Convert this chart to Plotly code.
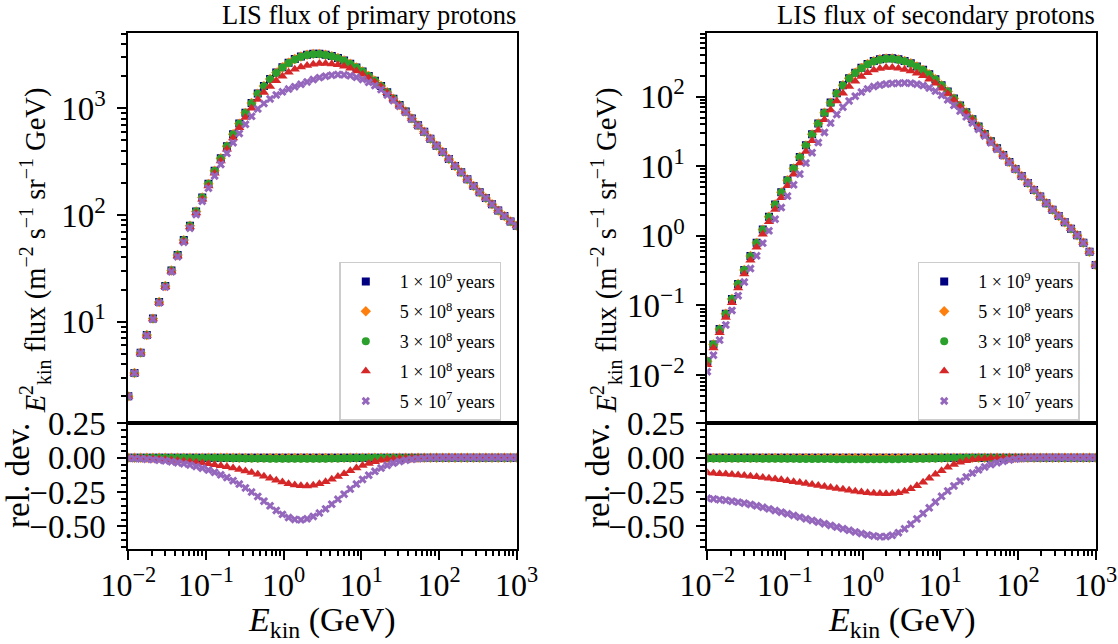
import plotly.graph_objects as go

W, H = 1118, 644
FONT = "Liberation Serif"

# ---------------- data ----------------
ENERGY_GEV = [
    0.01, 0.01200, 0.01441, 0.01730, 0.02077, 0.02493, 0.02993, 0.03594,
    0.04315, 0.05179, 0.06218, 0.07465, 0.08961, 0.1076, 0.1292, 0.1551,
    0.1861, 0.2234, 0.2683, 0.3221, 0.3866, 0.4642, 0.5572, 0.6690,
    0.8031, 0.9641, 1.157, 1.390, 1.668, 2.003, 2.404, 2.886,
    3.465, 4.160, 4.994, 5.995, 7.197, 8.640, 10.37, 12.45,
    14.95, 17.95, 21.54, 25.86, 31.05, 37.28, 44.75, 53.72,
    64.49, 77.43, 92.95, 111.6, 134.0, 160.8, 193.1, 231.8,
    278.3, 334.1, 401.0, 481.4, 578.0, 693.9, 833.0, 1000.0,
]

AGE_LABELS = [
    "1 × 10<sup>9</sup> years",
    "5 × 10<sup>8</sup> years",
    "3 × 10<sup>8</sup> years",
    "1 × 10<sup>8</sup> years",
    "5 × 10<sup>7</sup> years",
]

# primary protons: E^2 flux of the 1e9-year reference, and relative deviations of the others
PRIMARY_FLUX_1E9 = [
    2.00, 3.31, 5.13, 7.50, 10.7, 15.3, 21.6, 30.2,
    42.2, 58.2, 79.4, 108, 146, 196, 260, 340,
    442, 571, 719, 908, 1122, 1374, 1622, 1884,
    2163, 2427, 2679, 2897, 3062, 3177, 3243, 3243,
    3184, 3090, 2965, 2805, 2618, 2415, 2213, 2009,
    1811, 1622, 1413, 1230, 1072, 933, 804, 692,
    603, 519, 447, 389, 335, 288, 251, 216,
    187, 163, 144, 126, 110, 97.7, 87.1, 79.4,
]
PRIMARY_DEV_5E8 = [
    0.0, 0.0, 0.0, 0.0, 0.0, 0.0, 0.0, 0.0,
    0.0, 0.0, 0.0, 0.0, 0.0, 0.0, 0.0, 0.0,
    0.0, 0.0, 0.0, -0.001, -0.001, -0.001, -0.001, -0.001,
    -0.001, -0.001, -0.001, -0.001, -0.001, -0.001, -0.001, -0.001,
    -0.001, -0.001, -0.001, -0.001, 0.0, 0.0, 0.0, 0.0,
    0.0, 0.0, 0.0, 0.0, 0.0, 0.0, 0.0, 0.0,
    0.0, 0.0, 0.0, 0.0, 0.0, 0.0, 0.0, 0.0,
    0.0, 0.0, 0.0, 0.0, 0.0, 0.0, 0.0, 0.0,
]
PRIMARY_DEV_3E8 = [
    0.0, 0.0, 0.0, 0.0, -0.001, -0.001, -0.001, -0.001,
    -0.001, -0.001, -0.002, -0.002, -0.002, -0.002, -0.003, -0.003,
    -0.003, -0.004, -0.004, -0.005, -0.005, -0.006, -0.006, -0.007,
    -0.007, -0.008, -0.008, -0.008, -0.008, -0.008, -0.008, -0.007,
    -0.007, -0.006, -0.005, -0.004, -0.004, -0.003, -0.002, -0.002,
    -0.001, -0.001, -0.001, 0.0, 0.0, 0.0, 0.0, 0.0,
    0.0, 0.0, 0.0, 0.0, 0.0, 0.0, 0.0, 0.0,
    0.0, 0.0, 0.0, 0.0, 0.0, 0.0, 0.0, 0.0,
]
PRIMARY_DEV_1E8 = [
    -0.003, -0.004, -0.005, -0.007, -0.009, -0.011, -0.014, -0.017,
    -0.020, -0.024, -0.028, -0.033, -0.038, -0.044, -0.051, -0.058,
    -0.066, -0.075, -0.085, -0.096, -0.108, -0.121, -0.135, -0.150,
    -0.164, -0.177, -0.189, -0.198, -0.204, -0.205, -0.200, -0.190,
    -0.175, -0.157, -0.137, -0.116, -0.095, -0.075, -0.057, -0.042,
    -0.029, -0.019, -0.012, -0.007, -0.004, -0.002, -0.001, -0.001,
    0.0, 0.0, 0.0, 0.0, 0.0, 0.0, 0.0, 0.0,
    0.0, 0.0, 0.0, 0.0, 0.0, 0.0, 0.0, 0.0,
]
PRIMARY_DEV_5E7 = [
    -0.004, -0.006, -0.008, -0.011, -0.014, -0.018, -0.023, -0.029,
    -0.036, -0.044, -0.053, -0.064, -0.076, -0.090, -0.106, -0.124,
    -0.144, -0.167, -0.192, -0.220, -0.250, -0.282, -0.316, -0.350,
    -0.383, -0.412, -0.435, -0.449, -0.452, -0.444, -0.427, -0.402,
    -0.372, -0.338, -0.302, -0.265, -0.228, -0.192, -0.158, -0.127,
    -0.099, -0.075, -0.055, -0.039, -0.027, -0.018, -0.012, -0.007,
    -0.004, -0.002, -0.001, 0.0, 0.0, 0.0, 0.0, 0.0,
    0.0, 0.0, 0.0, 0.0, 0.0, 0.0, 0.0, 0.0,
]

# secondary protons
SECONDARY_FLUX_1E9 = [
    0.0158, 0.0275, 0.0457, 0.0759, 0.124, 0.204, 0.324, 0.513,
    0.794, 1.23, 1.88, 2.82, 4.22, 6.31, 9.33, 13.6,
    20.0, 28.8, 41.2, 58.9, 82.2, 112, 146, 184,
    221, 260, 295, 325, 345, 356, 356, 344,
    326, 302, 272, 243, 210, 178, 146, 119,
    94.4, 75.0, 59.6, 47.3, 37.2, 29.2, 22.9, 18.2,
    14.5, 11.5, 9.12, 7.24, 5.75, 4.57, 3.67, 2.95,
    2.37, 1.93, 1.57, 1.27, 1.02, 0.794, 0.589, 0.380,
]
SECONDARY_DEV_5E8 = [
    -0.001, -0.001, -0.001, -0.001, -0.001, -0.001, -0.001, -0.001,
    -0.001, -0.001, -0.001, -0.001, -0.001, -0.001, -0.001, -0.001,
    -0.001, -0.001, -0.001, -0.001, -0.001, -0.001, -0.001, -0.001,
    -0.001, -0.001, -0.001, -0.001, -0.001, -0.001, -0.001, -0.001,
    -0.001, -0.001, -0.001, -0.001, 0.0, 0.0, 0.0, 0.0,
    0.0, 0.0, 0.0, 0.0, 0.0, 0.0, 0.0, 0.0,
    0.0, 0.0, 0.0, 0.0, 0.0, 0.0, 0.0, 0.0,
    0.0, 0.0, 0.0, 0.0, 0.0, 0.0, 0.0, 0.0,
]
SECONDARY_DEV_3E8 = [
    -0.005, -0.005, -0.005, -0.005, -0.005, -0.006, -0.006, -0.006,
    -0.006, -0.007, -0.007, -0.007, -0.008, -0.008, -0.008, -0.009,
    -0.009, -0.009, -0.010, -0.010, -0.010, -0.011, -0.011, -0.011,
    -0.012, -0.012, -0.012, -0.012, -0.012, -0.012, -0.012, -0.011,
    -0.010, -0.009, -0.008, -0.007, -0.006, -0.005, -0.004, -0.003,
    -0.002, -0.002, -0.001, -0.001, -0.001, 0.0, 0.0, 0.0,
    0.0, 0.0, 0.0, 0.0, 0.0, 0.0, 0.0, 0.0,
    0.0, 0.0, 0.0, 0.0, 0.0, 0.0, 0.0, 0.0,
]
SECONDARY_DEV_1E8 = [
    -0.110, -0.113, -0.116, -0.119, -0.122, -0.126, -0.130, -0.134,
    -0.139, -0.144, -0.149, -0.155, -0.161, -0.167, -0.174, -0.181,
    -0.188, -0.195, -0.202, -0.209, -0.216, -0.223, -0.230, -0.237,
    -0.243, -0.249, -0.254, -0.258, -0.261, -0.262, -0.260, -0.254,
    -0.243, -0.226, -0.204, -0.178, -0.150, -0.121, -0.094, -0.070,
    -0.050, -0.034, -0.022, -0.014, -0.008, -0.005, -0.003, -0.002,
    -0.001, 0.0, 0.0, 0.0, 0.0, 0.0, 0.0, 0.0,
    0.0, 0.0, 0.0, 0.0, 0.0, 0.0, 0.0, 0.0,
]
SECONDARY_DEV_5E7 = [
    -0.295, -0.300, -0.305, -0.310, -0.316, -0.323, -0.331, -0.340,
    -0.350, -0.361, -0.372, -0.384, -0.396, -0.408, -0.420, -0.432,
    -0.444, -0.456, -0.468, -0.480, -0.492, -0.504, -0.516, -0.528,
    -0.540, -0.551, -0.561, -0.569, -0.574, -0.573, -0.564, -0.545,
    -0.517, -0.483, -0.445, -0.405, -0.364, -0.322, -0.281, -0.242,
    -0.205, -0.171, -0.140, -0.112, -0.088, -0.067, -0.050, -0.036,
    -0.025, -0.016, -0.010, -0.006, -0.003, -0.002, -0.001, 0.0,
    0.0, 0.0, 0.0, 0.0, 0.0, 0.0, 0.0, 0.0,
]

X_TICK_VALUES = [0.01, 0.1, 1, 10, 100, 1000]
X_TICK_LABELS = ["10<sup>−2</sup>", "10<sup>−1</sup>", "10<sup>0</sup>",
                 "10<sup>1</sup>", "10<sup>2</sup>", "10<sup>3</sup>"]
PRIMARY_Y_TICK_VALUES = [10, 100, 1000]
PRIMARY_Y_TICK_LABELS = ["10<sup>1</sup>", "10<sup>2</sup>", "10<sup>3</sup>"]
SECONDARY_Y_TICK_VALUES = [0.01, 0.1, 1, 10, 100]
SECONDARY_Y_TICK_LABELS = ["10<sup>−2</sup>", "10<sup>−1</sup>", "10<sup>0</sup>",
                           "10<sup>1</sup>", "10<sup>2</sup>"]
REL_TICK_VALUES = [0.25, 0.0, -0.25, -0.5]
REL_TICK_LABELS = ["0.25", "0.00", "−0.25", "−0.50"]
REL_MINOR_VALUES = [0.2, 0.15, 0.1, 0.05, -0.05, -0.1, -0.15, -0.2,
                    -0.3, -0.35, -0.4, -0.45, -0.55, -0.6, -0.65]

# ---------------- styles ----------------
STYLES = [
    dict(color="#000080", symbol="square", size=8),
    dict(color="#ff7f0e", symbol="diamond", size=8),
    dict(color="#2ca02c", symbol="circle", size=8),
    dict(color="#d62728", symbol="triangle-up", size=9),
    dict(color="#9467bd", symbol="x", size=7.5),
]

TICK_SIZE = 33
XTICK_SIZE = 32
TITLE_SIZE = 26.5
YLABEL_SIZE = 28.5
REL_LABEL_SIZE = 33
XLABEL_SIZE = 34
LEGEND_SIZE = 18


def log_minor(lo, hi):
    return [m * 10 ** e for e in range(lo, hi + 1) for m in range(2, 10)]


def px_x(p):
    return p / W


def px_y(p):
    return 1 - p / H


# layout geometry (pixels)
LEFT_X = (128.3, 516.7)
RIGHT_X = (707.3, 1095.7)
MAIN_Y = (33.3, 423.3)
REL_Y = (423.3, 548.5)

fig = go.Figure()


def add_panel(ref, devs, xm, ym, xr, yr, legend_name, tag):
    fluxes = [ref] + [[r * (1 + d) for r, d in zip(ref, dev)] for dev in devs]
    for i, (label, st, flux) in enumerate(zip(AGE_LABELS, STYLES, fluxes)):
        rel = [f / r - 1 for f, r in zip(flux, ref)]
        marker = dict(symbol=st["symbol"], size=st["size"], color=st["color"],
                      line=dict(width=0))
        group = f"{tag}{i}"
        fig.add_trace(go.Scatter(x=ENERGY_GEV, y=flux, mode="markers",
                                 name="\u00a0\u00a0" + label, legendgroup=group,
                                 marker=marker, xaxis=xm, yaxis=ym,
                                 legend=legend_name, showlegend=True))
        fig.add_trace(go.Scatter(x=ENERGY_GEV, y=rel, mode="markers", name=label,
                                 legendgroup=group, legend=legend_name,
                                 marker=marker, xaxis=xr, yaxis=yr,
                                 showlegend=False))


add_panel(PRIMARY_FLUX_1E9,
          [PRIMARY_DEV_5E8, PRIMARY_DEV_3E8, PRIMARY_DEV_1E8, PRIMARY_DEV_5E7],
          "x", "y", "x2", "y2", "legend", "p")
add_panel(SECONDARY_FLUX_1E9,
          [SECONDARY_DEV_5E8, SECONDARY_DEV_3E8, SECONDARY_DEV_1E8, SECONDARY_DEV_5E7],
          "x3", "y3", "x4", "y4", "legend2", "s")

base = dict(showline=True, linecolor="black", linewidth=2, mirror=True,
            showgrid=False, zeroline=False, ticks="outside", ticklen=9,
            tickwidth=2, tickcolor="black",
            tickfont=dict(family=FONT, size=TICK_SIZE, color="black"),
            automargin=False)
minor = dict(ticks="outside", ticklen=5, tickwidth=1.5, tickcolor="black",
             showgrid=False)


def main_x(dom, anchor):
    d = dict(base)
    d.update(domain=[px_x(dom[0]), px_x(dom[1])], anchor=anchor, type="log",
             range=[-2, 3], showticklabels=False, ticks="")
    return d


def rel_x(dom, anchor):
    d = dict(base)
    d.update(domain=[px_x(dom[0]), px_x(dom[1])], anchor=anchor, type="log",
             range=[-2, 3], tickmode="array", tickvals=X_TICK_VALUES,
             ticktext=X_TICK_LABELS, ticklabelstandoff=-2,
             ticklabeloverflow="allow",
             tickfont=dict(family=FONT, size=XTICK_SIZE, color="black"),
             minor=dict(minor, tickvals=log_minor(-2, 2)))
    return d


def main_y(anchor, rng, vals, labels, lo, hi):
    d = dict(base)
    d.update(domain=[px_y(MAIN_Y[1]), px_y(MAIN_Y[0])], anchor=anchor, type="log",
             range=rng, tickmode="array", tickvals=vals, ticktext=labels,
             ticklabelstandoff=5,
             minor=dict(minor, tickvals=log_minor(lo, hi)))
    return d


def rel_y(anchor):
    d = dict(base)
    d.update(domain=[px_y(REL_Y[1]), px_y(REL_Y[0])], anchor=anchor,
             range=[-0.66, 0.25], tickmode="array", tickvals=REL_TICK_VALUES,
             ticktext=REL_TICK_LABELS, ticklabelstandoff=5,
             minor=dict(minor, tickvals=REL_MINOR_VALUES))
    return d


legend_common = dict(xanchor="left", yanchor="top", bgcolor="rgba(255,255,255,0.85)",
                     bordercolor="#cccccc", borderwidth=1.5,
                     font=dict(family=FONT, size=LEGEND_SIZE, color="black"),
                     itemwidth=40, tracegroupgap=3.5)

fig.update_layout(
    width=W, height=H,
    margin=dict(l=0, r=0, t=0, b=0, autoexpand=False),
    paper_bgcolor="white", plot_bgcolor="white",
    font=dict(family=FONT, size=26, color="black"),
    xaxis=main_x(LEFT_X, "y"),
    yaxis=main_y("x", [0.048, 3.703], PRIMARY_Y_TICK_VALUES, PRIMARY_Y_TICK_LABELS, 0, 3),
    xaxis2=rel_x(LEFT_X, "y2"),
    yaxis2=rel_y("x2"),
    xaxis3=main_x(RIGHT_X, "y3"),
    yaxis3=main_y("x3", [-2.694, 2.911], SECONDARY_Y_TICK_VALUES, SECONDARY_Y_TICK_LABELS, -3, 2),
    xaxis4=rel_x(RIGHT_X, "y4"),
    yaxis4=rel_y("x4"),
    legend=dict(legend_common, x=px_x(339.3), y=px_y(261.7)),
    legend2=dict(legend_common, x=px_x(917.7), y=px_y(261.7)),
)

ylab = "<i>E</i><sup>2</sup><sub>kin</sub> flux (m<sup>−2</sup> s<sup>−1</sup> sr<sup>−1</sup> GeV)"
xlab = "<i>E</i><sub>kin</sub> (GeV)"
main_mid = (MAIN_Y[0] + MAIN_Y[1]) / 2 + 22
rel_mid = (REL_Y[0] + REL_Y[1]) / 2 - 10
annotations = [
    dict(text="LIS flux of primary protons", x=px_x(LEFT_X[1]), y=px_y(15),
         xanchor="right", yanchor="middle", size=TITLE_SIZE),
    dict(text="LIS flux of secondary protons", x=px_x(RIGHT_X[1]), y=px_y(15),
         xanchor="right", yanchor="middle", size=TITLE_SIZE),
    dict(text=ylab, x=px_x(35), y=px_y(main_mid), textangle=-90,
         xanchor="center", yanchor="middle", size=YLABEL_SIZE),
    dict(text=ylab, x=px_x(606), y=px_y(main_mid), textangle=-90,
         xanchor="center", yanchor="middle", size=YLABEL_SIZE),
    dict(text="rel. dev.", x=px_x(18), y=px_y(rel_mid), textangle=-90,
         xanchor="center", yanchor="middle", size=REL_LABEL_SIZE),
    dict(text="rel. dev.", x=px_x(598), y=px_y(rel_mid), textangle=-90,
         xanchor="center", yanchor="middle", size=REL_LABEL_SIZE),
    dict(text=xlab, x=px_x(sum(LEFT_X) / 2), y=0, xanchor="center",
         yanchor="bottom", size=XLABEL_SIZE),
    dict(text=xlab, x=px_x(sum(RIGHT_X) / 2), y=0, xanchor="center",
         yanchor="bottom", size=XLABEL_SIZE),
]
for a in annotations:
    size = a.pop("size")
    a.update(xref="paper", yref="paper", showarrow=False, borderpad=0,
             font=dict(family=FONT, size=size, color="black"))
fig.update_layout(annotations=annotations)

fig.write_html("out.html")
